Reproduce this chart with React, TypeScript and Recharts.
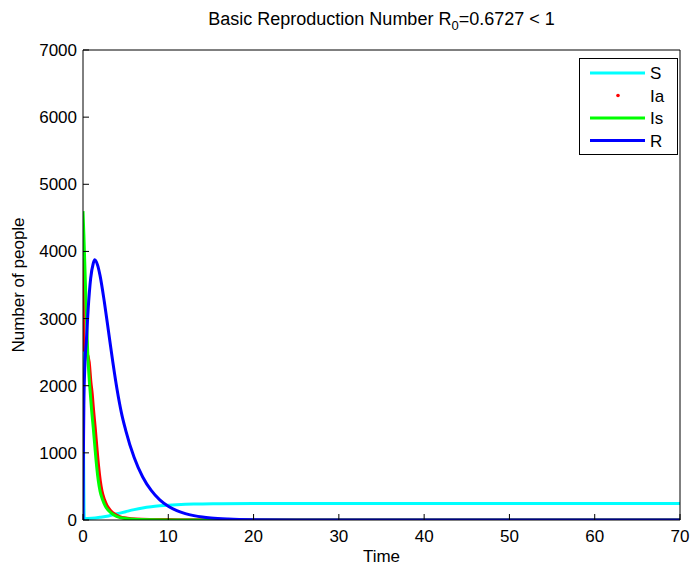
import React from "react";
import { LineChart, Line, XAxis, YAxis, Legend } from "recharts";

const timeTicks = [0, 10, 20, 30, 40, 50, 60, 70];
const peopleTicks = [0, 1000, 2000, 3000, 4000, 5000, 6000, 7000];

// values
const sTime = [0, 0.08, 0.15, 1, 2, 3, 4, 5, 6, 7, 8, 9, 10, 11, 12, 13, 14, 16, 20, 30, 40, 50, 60, 70];
const sValues = [2700, 800, 20, 25, 40, 60, 92, 124, 155, 180, 198, 211, 221, 228, 233, 237, 240, 243, 245, 245, 245, 245, 245, 245];

const iaTime = [0, 0.03, 0.4, 0.7, 0.9, 1.05, 1.2, 1.4, 1.6, 1.8, 2.0, 2.2, 2.5, 2.8, 3.2, 3.7, 4.2, 5.2, 6.2, 8, 10, 15, 70];
const iaValues = [3900, 2550, 2500, 2350, 2050, 1880, 1650, 1380, 1080, 800, 580, 430, 300, 210, 140, 85, 52, 22, 10, 4, 2, 0, 0];

const isTime = [0, 0.1, 0.25, 0.4, 0.55, 0.7, 0.86, 1.0, 1.2, 1.4, 1.6, 1.8, 2.0, 2.3, 2.6, 3.0, 3.5, 4, 5, 6, 8, 10, 15, 70];
const isValues = [4600, 4250, 3650, 3050, 2500, 2150, 1880, 1650, 1380, 1080, 800, 580, 430, 300, 210, 140, 85, 52, 22, 10, 3, 1, 0, 0];

const rTime = [0, 0.05, 0.1, 0.2, 0.4, 0.6, 0.9, 1.2, 1.37, 1.7, 2.0, 2.5, 3.0, 3.5, 4.0, 4.5, 5, 6, 7, 8, 9, 10, 11, 12, 13, 14, 15, 17, 20, 25, 70];
const rValues = [0, 1000, 1700, 2240, 2680, 3130, 3600, 3820, 3875, 3800, 3640, 3250, 2800, 2350, 1940, 1600, 1340, 930, 640, 440, 300, 205, 140, 95, 65, 44, 30, 14, 4, 0, 0];

const seriesNames = ["S", "Ia", "Is", "R"];
const seriesColors = ["#00ffff", "#ff0000", "#00ff00", "#0000ff"];

const toRows = (t: number[], v: number[]) => t.map((time, i) => ({ time, value: v[i] }));

const font = "'Liberation Sans', Arial, Helvetica, sans-serif";

function BottomTick({ x, y, payload }: any) {
  return (
    <g>
      <line x1={x} y1={y} x2={x} y2={y - 6} stroke="#000" />
      <text x={x} y={y + 22} textAnchor="middle" fontSize={17} fontFamily={font} fill="#000">
        {payload.value}
      </text>
    </g>
  );
}

function TopTick({ x, y }: any) {
  return <line x1={x} y1={y} x2={x} y2={y + 6} stroke="#000" />;
}

function LeftTick({ x, y, payload }: any) {
  return (
    <g>
      <line x1={x} y1={y} x2={x + 6} y2={y} stroke="#000" />
      <text x={x - 6} y={y + 6} textAnchor="end" fontSize={17} fontFamily={font} fill="#000">
        {payload.value}
      </text>
    </g>
  );
}

function RightTick({ x, y }: any) {
  return <line x1={x} y1={y} x2={x - 6} y2={y} stroke="#000" />;
}

function LegendBox() {
  return (
    <div style={{ border: "1px solid #000", background: "#fff", width: 99, height: 97, boxSizing: "border-box" }}>
      <svg width={97} height={95}>
        {seriesNames.map((name, i) => {
          const cy = 14 + i * 22.5;
          return (
            <g key={name}>
              {name === "Ia" ? (
                <circle cx={38} cy={cy} r={1.8} fill={seriesColors[i]} />
              ) : (
                <line x1={10} x2={65} y1={cy} y2={cy} stroke={seriesColors[i]} strokeWidth={3} />
              )}
              <text x={70} y={cy + 6} fontSize={17} fontFamily={font} fill="#000">
                {name}
              </text>
            </g>
          );
        })}
      </svg>
    </div>
  );
}

export default function App() {
  const series = [
    toRows(sTime, sValues),
    toRows(iaTime, iaValues),
    toRows(isTime, isValues),
    toRows(rTime, rValues),
  ];
  return (
    <div style={{ position: "fixed", left: 0, top: 0, width: 690, height: 566, background: "#fff", fontFamily: font }}>
      <div
        style={{
          position: "absolute",
          left: 83,
          width: 597,
          top: 8,
          textAlign: "center",
          fontSize: 18,
          color: "#000",
          lineHeight: "22px",
        }}
      >
        Basic Reproduction Number R<sub style={{ fontSize: 13 }}>0</sub>=0.6727 &lt; 1
      </div>
      <LineChart width={690} height={566} margin={{ top: 40, right: 0, bottom: 16, left: 23 }}>
        <XAxis
          dataKey="time"
          type="number"
          domain={[0, 70]}
          ticks={timeTicks}
          allowDataOverflow
          height={30}
          tickSize={0}
          tickMargin={0}
          tick={<BottomTick />}
          tickLine={false}
          axisLine={{ stroke: "#000" }}
          label={{ value: "Time", position: "bottom", offset: 0, fontSize: 17, fill: "#000", fontFamily: font }}
        />
        <XAxis
          xAxisId="top"
          orientation="top"
          dataKey="time"
          type="number"
          domain={[0, 70]}
          ticks={timeTicks}
          height={10}
          tickSize={0}
          tickMargin={0}
          tick={<TopTick />}
          tickLine={false}
          axisLine={{ stroke: "#000" }}
        />
        <YAxis
          type="number"
          domain={[0, 7000]}
          ticks={peopleTicks}
          allowDataOverflow
          width={60}
          tickSize={0}
          tickMargin={0}
          tick={<LeftTick />}
          tickLine={false}
          axisLine={{ stroke: "#000" }}
          label={{
            value: "Number of people",
            angle: -90,
            position: "insideLeft",
            offset: -5,
            style: { textAnchor: "middle", fontSize: 17, fill: "#000", fontFamily: font },
          }}
        />
        <YAxis
          yAxisId="right"
          orientation="right"
          type="number"
          domain={[0, 7000]}
          ticks={peopleTicks}
          width={10}
          tickSize={0}
          tickMargin={0}
          tick={<RightTick />}
          tickLine={false}
          axisLine={{ stroke: "#000" }}
        />
        <Legend
          layout="vertical"
          align="center"
          verticalAlign="middle"
          wrapperStyle={{ left: 579, top: 58, width: 99, height: 97 }}
          content={<LegendBox />}
        />
        {series.map((rows, i) => (
          <Line
            key={seriesNames[i]}
            data={rows}
            dataKey="value"
            name={seriesNames[i]}
            type="monotone"
            stroke={seriesColors[i]}
            strokeWidth={i === 1 ? 3.5 : 3}
            dot={false}
            isAnimationActive={false}
          />
        ))}
      </LineChart>
    </div>
  );
}
